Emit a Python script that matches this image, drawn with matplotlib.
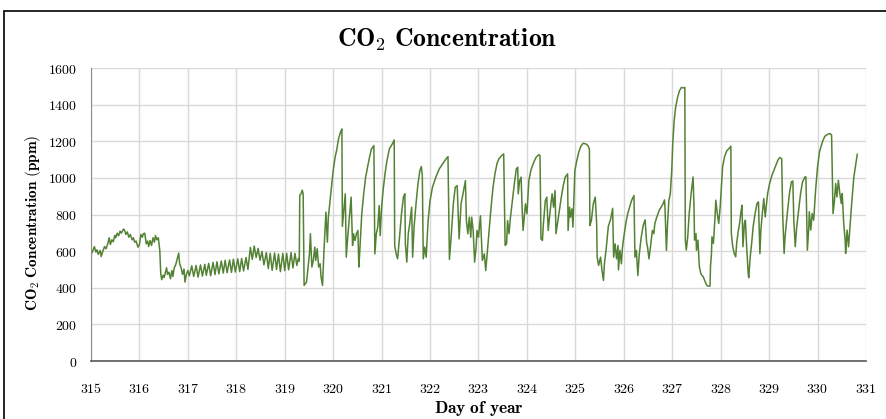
import matplotlib.pyplot as plt
from matplotlib.patches import Rectangle

plt.rcParams['mathtext.fontset'] = 'cm'

# day of year (fractional) and CO2 readings
day = [
    315.00, 315.04, 315.07, 315.10, 315.125, 315.15, 315.19, 315.21, 315.25, 315.28,
    315.31, 315.35, 315.375, 315.40, 315.43, 315.46, 315.49, 315.51, 315.54, 315.57,
    315.60, 315.625, 315.67, 315.69, 315.72, 315.75, 315.78, 315.81, 315.85, 315.875,
    315.90, 315.93, 315.97, 316.00, 316.03, 316.06, 316.08, 316.11, 316.14, 316.17,
    316.19, 316.22, 316.25, 316.28, 316.31, 316.33, 316.36, 316.39, 316.42, 316.44,
    316.46, 316.49, 316.51, 316.56, 316.58, 316.61, 316.64, 316.67, 316.69, 316.72,
    316.75, 316.78, 316.81, 316.83, 316.86, 316.89, 316.92, 316.94, 316.97, 317.00,
    317.03, 317.08, 317.12, 317.17, 317.21, 317.26, 317.30, 317.35, 317.38, 317.43,
    317.47, 317.52, 317.56, 317.60, 317.64, 317.69, 317.73, 317.77, 317.81, 317.86,
    317.90, 317.94, 317.98, 318.03, 318.07, 318.11, 318.15, 318.20, 318.24, 318.29,
    318.33, 318.37, 318.41, 318.45, 318.49, 318.53, 318.57, 318.62, 318.66, 318.70,
    318.74, 318.79, 318.83, 318.87, 318.91, 318.96, 319.00, 319.04, 319.08, 319.13,
    319.17, 319.21, 319.25, 319.28, 319.30, 319.31, 319.34, 319.36, 319.38, 319.40,
    319.45, 319.51, 319.53, 319.56, 319.59, 319.62, 319.64, 319.67, 319.70, 319.73,
    319.75, 319.78, 319.81, 319.85, 319.88, 319.90, 319.95, 320.00, 320.04, 320.07,
    320.11, 320.15, 320.18, 320.19, 320.22, 320.25, 320.27, 320.30, 320.34, 320.37,
    320.40, 320.42, 320.45, 320.48, 320.51, 320.53, 320.55, 320.59, 320.63, 320.67,
    320.71, 320.75, 320.79, 320.84, 320.86, 320.89, 320.92, 320.95, 320.97, 321.00,
    321.03, 321.07, 321.11, 321.16, 321.22, 321.26, 321.27, 321.30, 321.33, 321.37,
    321.41, 321.45, 321.48, 321.49, 321.52, 321.55, 321.58, 321.62, 321.64, 321.67,
    321.71, 321.75, 321.79, 321.82, 321.84, 321.86, 321.89, 321.92, 321.96, 322.00,
    322.05, 322.12, 322.19, 322.26, 322.33, 322.37, 322.40, 322.44, 322.48, 322.52,
    322.56, 322.60, 322.64, 322.68, 322.73, 322.75, 322.78, 322.81, 322.84, 322.86,
    322.89, 322.92, 322.95, 322.97, 323.00, 323.04, 323.08, 323.12, 323.15, 323.19,
    323.22, 323.26, 323.30, 323.34, 323.38, 323.42, 323.48, 323.52, 323.55, 323.58,
    323.60, 323.63, 323.66, 323.70, 323.74, 323.78, 323.81, 323.82, 323.85, 323.88,
    323.90, 323.92, 323.95, 323.97, 324.00, 324.04, 324.08, 324.14, 324.19, 324.25,
    324.27, 324.29, 324.32, 324.34, 324.38, 324.41, 324.44, 324.48, 324.52, 324.55,
    324.58, 324.60, 324.63, 324.67, 324.71, 324.75, 324.79, 324.84, 324.85, 324.88,
    324.90, 324.93, 324.95, 324.99, 325.03, 325.07, 325.11, 325.16, 325.22, 325.26,
    325.29, 325.30, 325.33, 325.37, 325.41, 325.44, 325.45, 325.48, 325.52, 325.55,
    325.58, 325.60, 325.64, 325.68, 325.73, 325.77, 325.79, 325.82, 325.85, 325.88,
    325.89, 325.92, 325.95, 325.97, 326.00, 326.04, 326.08, 326.12, 326.16, 326.21,
    326.23, 326.26, 326.29, 326.32, 326.36, 326.40, 326.44, 326.47, 326.49, 326.52,
    326.55, 326.59, 326.62, 326.64, 326.68, 326.73, 326.77, 326.81, 326.84, 326.85,
    326.88, 326.90, 326.93, 326.96, 326.99, 327.01, 327.04, 327.07, 327.11, 327.15,
    327.19, 327.23, 327.26, 327.27, 327.29, 327.32, 327.35, 327.39, 327.43, 327.45,
    327.46, 327.49, 327.50, 327.53, 327.56, 327.59, 327.61, 327.64, 327.68, 327.71,
    327.74, 327.78, 327.79, 327.81, 327.82, 327.85, 327.88, 327.90, 327.93, 327.96,
    327.99, 328.04, 328.08, 328.125, 328.17, 328.21, 328.22, 328.25, 328.28, 328.31,
    328.33, 328.36, 328.39, 328.42, 328.44, 328.46, 328.49, 328.51, 328.54, 328.57,
    328.58, 328.61, 328.64, 328.67, 328.71, 328.75, 328.78, 328.81, 328.83, 328.86,
    328.89, 328.92, 328.94, 328.97, 329.01, 329.06, 329.10, 329.14, 329.18, 329.22,
    329.26, 329.28, 329.31, 329.33, 329.375, 329.42, 329.46, 329.49, 329.51, 329.54,
    329.57, 329.61, 329.65, 329.69, 329.74, 329.76, 329.79, 329.82, 329.83, 329.86,
    329.89, 329.92, 329.96, 330.00, 330.04, 330.10, 330.15, 330.21, 330.26, 330.29,
    330.32, 330.35, 330.375, 330.40, 330.43, 330.46, 330.49, 330.51, 330.54, 330.57,
    330.58, 330.61, 330.64, 330.67, 330.71, 330.75, 330.79, 330.82,
]
co2_ppm = [
    580, 604, 625, 595, 607, 582, 604, 571, 604, 625,
    613, 644, 673, 636, 662, 651, 685, 673, 698, 684,
    709, 698, 720, 716, 691, 705, 676, 691, 662, 673,
    649, 655, 622, 636, 691, 676, 695, 698, 640, 655,
    625, 658, 631, 673, 649, 685, 662, 673, 604, 476,
    444, 469, 456, 509, 473, 485, 449, 494, 462, 509,
    527, 558, 589, 531, 509, 473, 502, 431, 473, 494,
    465, 520, 462, 522, 458, 525, 464, 528, 468, 533,
    466, 538, 472, 542, 476, 546, 480, 550, 482, 552,
    484, 556, 486, 558, 488, 560, 492, 565, 500, 620,
    555, 628, 565, 615, 550, 598, 525, 592, 505, 588,
    495, 590, 500, 584, 488, 588, 494, 588, 498, 592,
    508, 588, 522, 560, 545, 905, 915, 933, 913, 413,
    431, 585, 695, 513, 549, 622, 549, 613, 513, 531,
    458, 413, 604, 813, 649, 785, 913, 1040, 1113, 1149,
    1213, 1249, 1267, 735, 822, 913, 567, 676, 804, 895,
    631, 695, 658, 695, 713, 513, 604, 804, 913, 1004,
    1058, 1113, 1158, 1176, 585, 695, 731, 849, 685, 840,
    931, 1022, 1094, 1158, 1185, 1207, 631, 585, 558, 676,
    804, 895, 913, 640, 540, 695, 749, 840, 567, 731,
    858, 967, 1040, 1062, 1013, 558, 622, 567, 767, 876,
    949, 1004, 1049, 1076, 1104, 1116, 555, 695, 858, 949,
    958, 667, 858, 913, 985, 767, 695, 785, 676, 785,
    713, 540, 622, 713, 676, 793, 549, 585, 494, 622,
    722, 840, 949, 1022, 1076, 1104, 1122, 1131, 631, 640,
    767, 695, 785, 876, 967, 1049, 1058, 913, 985, 1004,
    840, 713, 804, 858, 804, 985, 1040, 1085, 1113, 1127,
    1122, 667, 658, 749, 876, 895, 713, 822, 913, 840,
    931, 695, 749, 822, 895, 958, 1004, 1022, 713, 840,
    785, 831, 731, 1040, 1095, 1140, 1171, 1189, 1185, 1176,
    1158, 740, 767, 858, 895, 749, 567, 522, 567, 494,
    440, 531, 622, 735, 776, 834, 567, 640, 558, 631,
    498, 604, 531, 613, 676, 749, 804, 840, 876, 904,
    567, 604, 467, 585, 676, 740, 771, 649, 622, 558,
    622, 713, 695, 749, 785, 822, 840, 858, 880, 840,
    604, 731, 876, 913, 1040, 1185, 1313, 1385, 1440, 1476,
    1494, 1491, 1494, 660, 606, 678, 805, 914, 1005, 842,
    660, 696, 605, 660, 515, 478, 469, 460, 433, 415,
    409, 409, 515, 587, 678, 642, 769, 878, 805, 751,
    842, 1060, 1115, 1147, 1160, 1173, 696, 624, 587, 569,
    642, 705, 751, 815, 851, 624, 751, 769, 605, 473,
    455, 569, 642, 733, 805, 860, 869, 586, 715, 805,
    887, 787, 842, 915, 969, 1015, 1042, 1069, 1096, 1111,
    1105, 805, 587, 678, 805, 915, 978, 983, 769, 624,
    733, 824, 915, 978, 1005, 1005, 605, 733, 815, 715,
    805, 769, 933, 1060, 1142, 1196, 1227, 1238, 1242, 1233,
    805, 878, 969, 896, 987, 915, 860, 915, 751, 660,
    587, 715, 624, 733, 878, 1005, 1078, 1129,
]

x_ticks = list(range(315, 332))
y_ticks = list(range(0, 1601, 200))

fig = plt.figure(figsize=(8.87, 4.19), dpi=100)
ax = fig.add_axes([0.1026, 0.1384, 0.8737, 0.6993])

ax.plot(day, co2_ppm, color='#548235', lw=1.1)

ax.set_xlim(315, 331)
ax.set_ylim(0, 1600)
ax.set_xticks(x_ticks)
ax.set_yticks(y_ticks)
ax.set_xticklabels([r'$\mathbf{%d}$' % t for t in x_ticks], fontsize=10)
ax.set_yticklabels([r'$\mathbf{%d}$' % t for t in y_ticks], fontsize=10)
ax.tick_params(axis='x', length=0, pad=15)
ax.tick_params(axis='y', length=0, pad=10)

ax.grid(color='#d9d9d9', lw=1)
ax.set_axisbelow(True)
for s in ['top', 'right']:
    ax.spines[s].set_visible(False)
ax.spines['left'].set_color('#8c8c8c')
ax.spines['bottom'].set_color('#595959')
ax.spines['bottom'].set_linewidth(1.2)

fig.text(0.504, 0.905, r'$\mathbf{CO}_{\mathbf{2}}\ \mathbf{Concentration}$', ha='center', va='center',
         fontsize=18.5)
fig.text(0.5395, 0.025, r'$\mathbf{Day\ of\ year}$', ha='center', va='center', fontsize=12.5)
fig.text(0.037, 0.468, r'$\mathbf{CO}_{\mathbf{2}}\ \mathbf{Concentration\ (ppm)}$', ha='center',
         va='center', rotation=90, fontsize=11)

# outer frame, cut off at the right and bottom edges like the original
fig.patches.append(Rectangle((4.5 / 887, -0.5), 2.0, 1.5 - 11.5 / 419, transform=fig.transFigure,
                             fill=False, edgecolor='black', lw=1.2))

fig.savefig('out.png', dpi=100)
